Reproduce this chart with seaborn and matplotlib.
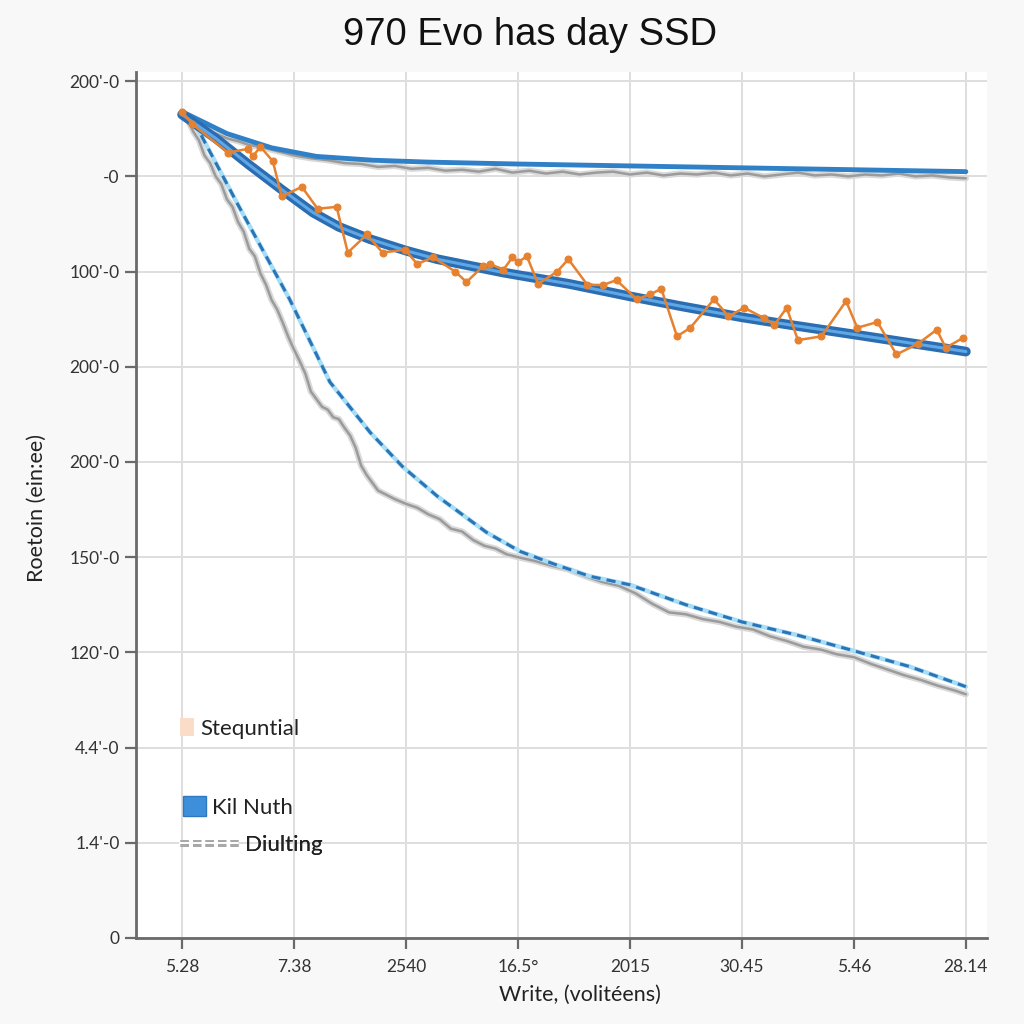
import matplotlib
matplotlib.use("Agg")
import matplotlib.pyplot as plt
import seaborn as sns
from matplotlib.patches import Patch
from matplotlib.lines import Line2D

# Tick labels (category-like positions)
x_tick_labels = ["5.28", "7.38", "2540", "16.5°", "2015", "30.45", "5.46", "28.14"]
y_tick_labels = ["0", "1.4'-0", "4.4'-0", "120'-0", "150'-0", "200'-0", "200'-0", "100'-0", "-0", "200'-0"]

# Top blue solid line
top_blue_x = [0.0, 0.4, 0.8, 1.2, 1.7, 2.2, 3.0, 3.5, 4.5, 5.5, 6.5, 7.0]
top_blue_y = [8.68, 8.45, 8.30, 8.21, 8.17, 8.15, 8.13, 8.12, 8.10, 8.08, 8.06, 8.05]

# Top gray noisy line
top_gray_x = [0.0, 0.1, 0.2, 0.3, 0.4, 0.5, 0.6, 0.7, 0.8, 0.9, 1.0, 1.15, 1.3, 1.45, 1.6, 1.75,
              1.9, 2.05, 2.2, 2.35, 2.5, 2.65, 2.8, 2.95, 3.1, 3.25, 3.4, 3.55, 3.7, 3.85, 4.0,
              4.15, 4.3, 4.45, 4.6, 4.75, 4.9, 5.05, 5.2, 5.35, 5.5, 5.65, 5.8, 5.95, 6.1, 6.25,
              6.4, 6.55, 6.7, 6.85, 7.0]
top_gray_y = [8.68, 8.55, 8.49, 8.45, 8.40, 8.37, 8.33, 8.31, 8.28, 8.25, 8.22, 8.19, 8.17, 8.14,
              8.13, 8.10, 8.11, 8.08, 8.09, 8.06, 8.07, 8.05, 8.08, 8.04, 8.06, 8.03, 8.05, 8.02,
              8.04, 8.05, 8.02, 8.04, 8.01, 8.03, 8.02, 8.04, 8.01, 8.03, 8.00, 8.02, 8.04, 8.01,
              8.02, 8.00, 8.02, 8.01, 8.03, 8.00, 8.01, 7.99, 7.98]

# Middle thick blue line (Kil Nuth)
mid_blue_x = [0.0, 0.3, 0.6, 0.88, 1.17, 1.4, 1.68, 2.0, 2.28, 2.87, 3.46, 4.0, 4.44, 5.0, 5.43,
              6.0, 6.5, 7.0]
mid_blue_y = [8.65, 8.40, 8.12, 7.87, 7.62, 7.47, 7.34, 7.22, 7.13, 6.99, 6.87, 6.74, 6.64, 6.52,
              6.44, 6.34, 6.25, 6.16]

# Orange zig-zag series with markers
orange_x = [0.0, 0.09, 0.41, 0.59, 0.63, 0.70, 0.81, 0.89, 1.07, 1.21, 1.38, 1.48, 1.65, 1.79,
            1.99, 2.10, 2.24, 2.44, 2.54, 2.69, 2.75, 2.87, 2.95, 3.00, 3.08, 3.18, 3.35, 3.45,
            3.62, 3.76, 3.88, 4.06, 4.18, 4.28, 4.42, 4.54, 4.75, 4.88, 5.02, 5.20, 5.29, 5.40,
            5.50, 5.71, 5.93, 6.03, 6.21, 6.38, 6.57, 6.74, 6.82, 6.97]
orange_y = [8.68, 8.55, 8.25, 8.29, 8.21, 8.31, 8.16, 7.79, 7.89, 7.66, 7.68, 7.20, 7.39, 7.20,
            7.23, 7.08, 7.15, 7.00, 6.89, 7.06, 7.08, 7.02, 7.15, 7.10, 7.16, 6.87, 7.00, 7.13,
            6.86, 6.86, 6.91, 6.71, 6.76, 6.82, 6.32, 6.41, 6.71, 6.53, 6.62, 6.51, 6.44, 6.62,
            6.28, 6.32, 6.69, 6.41, 6.47, 6.13, 6.24, 6.39, 6.20, 6.30]

# Steep dashed blue line
dash_blue_x = [0.0, 0.14, 0.5, 0.96, 1.32, 1.68, 1.97, 2.28, 2.72, 3.02, 3.34, 3.64, 4.0, 4.5,
               5.0, 5.5, 5.96, 6.5, 7.0]
dash_blue_y = [8.68, 8.50, 7.70, 6.71, 5.84, 5.31, 4.95, 4.64, 4.26, 4.06, 3.92, 3.80, 3.71, 3.50,
               3.32, 3.18, 3.03, 2.85, 2.64]

# Steep gray noisy line (Diulting)
low_gray_x = [0.0, 0.05, 0.1, 0.15, 0.2, 0.25, 0.3, 0.35, 0.4, 0.45, 0.5, 0.55, 0.6, 0.65, 0.7,
              0.75, 0.8, 0.85, 0.9, 0.95, 1.0, 1.05, 1.1, 1.15, 1.2, 1.25, 1.3, 1.35, 1.4, 1.45,
              1.5, 1.55, 1.6, 1.65, 1.7, 1.75, 1.8, 1.9, 2.0, 2.1, 2.2, 2.3, 2.4, 2.5, 2.6, 2.7,
              2.8, 2.9, 3.0, 3.15, 3.3, 3.45, 3.6, 3.75, 3.9, 4.05, 4.2, 4.35, 4.5, 4.65, 4.8,
              4.95, 5.1, 5.25, 5.4, 5.55, 5.7, 5.85, 6.0, 6.15, 6.3, 6.45, 6.6, 6.75, 6.9, 7.0]
low_gray_y = [8.68, 8.60, 8.47, 8.38, 8.22, 8.14, 8.00, 7.92, 7.76, 7.68, 7.52, 7.42, 7.24, 7.16,
              6.98, 6.86, 6.70, 6.60, 6.46, 6.31, 6.18, 6.06, 5.93, 5.74, 5.66, 5.58, 5.55, 5.47,
              5.45, 5.36, 5.28, 5.15, 4.96, 4.86, 4.78, 4.70, 4.67, 4.61, 4.56, 4.52, 4.45, 4.40,
              4.30, 4.27, 4.18, 4.12, 4.09, 4.03, 4.00, 3.96, 3.91, 3.87, 3.80, 3.74, 3.70, 3.62,
              3.51, 3.42, 3.40, 3.35, 3.32, 3.27, 3.24, 3.17, 3.12, 3.06, 3.03, 2.98, 2.95, 2.88,
              2.82, 2.76, 2.71, 2.65, 2.60, 2.56]

sns.set_theme(style="whitegrid")
plt.rcParams['font.family'] = ['Lato', 'DejaVu Sans']

fig = plt.figure(figsize=(10.24, 10.24), dpi=100, facecolor='#f8f8f8')
ax = fig.add_axes([0.133, 0.084, 0.831, 0.846])
ax.set_facecolor('white')

# gray noisy lines (soft shadow + line)
for gx, gy in [(top_gray_x, top_gray_y), (low_gray_x, low_gray_y)]:
    sns.lineplot(x=gx, y=gy, ax=ax, sort=False, estimator=None, color='#d9d9d9', lw=4.5, zorder=2)
    sns.lineplot(x=gx, y=gy, ax=ax, sort=False, estimator=None, color='#9b9b9b', lw=1.8, zorder=3)

# dashed blue with light glow
sns.lineplot(x=dash_blue_x, y=dash_blue_y, ax=ax, sort=False, estimator=None,
             color='#a8def5', lw=3.2, zorder=3)
sns.lineplot(x=dash_blue_x, y=dash_blue_y, ax=ax, sort=False, estimator=None,
             color='#2a74b8', lw=2.2, linestyle=(0, (3, 2)), zorder=4)

# top blue line
sns.lineplot(x=top_blue_x, y=top_blue_y, ax=ax, sort=False, estimator=None,
             color='#2f80c6', lw=3.5, zorder=5)

# middle thick blue line with lighter core
sns.lineplot(x=mid_blue_x, y=mid_blue_y, ax=ax, sort=False, estimator=None,
             color='#2b6db0', lw=7, zorder=5)
sns.lineplot(x=mid_blue_x, y=mid_blue_y, ax=ax, sort=False, estimator=None,
             color='#5ea8e8', lw=2.2, zorder=6)

# orange series
sns.lineplot(x=orange_x, y=orange_y, ax=ax, sort=False, estimator=None,
             color='#e6812f', lw=1.8, marker='o', markersize=5,
             markeredgecolor='#e6812f', zorder=7)

ax.set_xlim(-0.41, 7.19)
ax.set_ylim(0, 9.1)
ax.set_xticks(range(len(x_tick_labels)))
ax.set_xticklabels(x_tick_labels)
ax.set_yticks(range(len(y_tick_labels)))
ax.set_yticklabels(y_tick_labels)

ax.grid(True, color='#dedede', lw=1.4)
for side in ['top', 'right']:
    ax.spines[side].set_visible(False)
for side in ['left', 'bottom']:
    ax.spines[side].set_color('#6a6a6a')
    ax.spines[side].set_linewidth(2)
ax.tick_params(axis='both', which='major', direction='out', length=8, width=1.6,
               color='#6a6a6a', labelsize=12.5, labelcolor='#333333',
               left=True, bottom=True)
ax.tick_params(axis='y', pad=4)
ax.tick_params(axis='x', pad=7)

ax.set_xlabel("")
ax.set_ylabel("")

fig.text(0.518, 0.966, "970 Evo has day SSD", ha='center', va='center',
         fontsize=27.5, family=['Liberation Sans', 'DejaVu Sans'], color='#111111')
fig.text(0.566, 0.028, "Write, (volitéens)", ha='center', va='center',
         fontsize=15.5, color='#222222')
fig.text(0.036, 0.504, "Roetoin (ein:ee)", ha='center', va='center', rotation=90,
         fontsize=15.5, color='#222222')

# legend entries, placed separately like in the reference
def put_legend(handle, label, anchor, hl, hh):
    leg = ax.legend([handle], [label], loc='center left', bbox_to_anchor=anchor,
                    bbox_transform=fig.transFigure, frameon=False, fontsize=16,
                    handlelength=hl, handleheight=hh, handletextpad=0.3,
                    borderpad=0, borderaxespad=0)
    for t in leg.get_texts():
        t.set_color('#222222')
    ax.add_artist(leg)

put_legend(Patch(facecolor='#fbdcc8', edgecolor='none'), "Stequntial", (0.176, 0.289), 0.6, 0.9)
put_legend(Patch(facecolor='#3d8fdb', edgecolor='#2f78c0'), "Kil Nuth", (0.179, 0.212), 1.0, 1.0)
put_legend((Line2D([], [], color='#a8a8a8', lw=5, linestyle=(0, (1.2, 0.6))),
            Line2D([], [], color='white', lw=1.4)),
           "Diulting", (0.176, 0.175), 2.6, 0.7)

fig.savefig('out.png', dpi=100, facecolor=fig.get_facecolor())
